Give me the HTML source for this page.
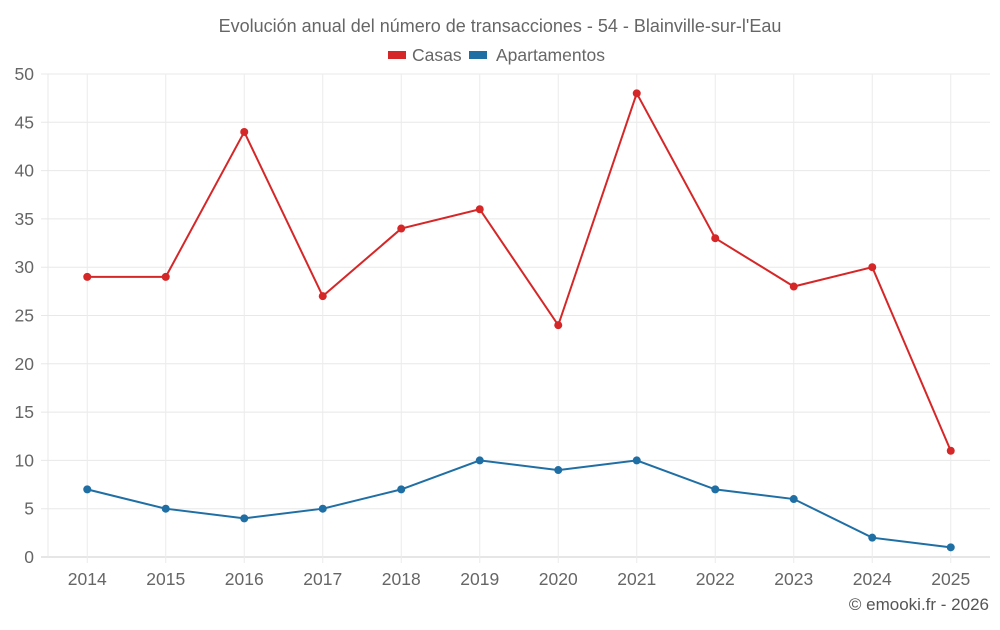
<!DOCTYPE html>
<html><head><meta charset="utf-8"><style>
body{margin:0;background:#fff;font-family:"Liberation Sans",sans-serif}
</style></head><body>
<svg id="c" width="1000" height="625" xmlns="http://www.w3.org/2000/svg">
<text x="500" y="32" text-anchor="middle" font-size="18" fill="#666">Evolución anual del número de transacciones - 54 - Blainville-sur-l'Eau</text>
<g><rect x="388" y="51" width="18" height="8" fill="#d62728"/><text x="412" y="61" font-size="17.5" fill="#666">Casas</text></g>
<g><rect x="469" y="51" width="18" height="8" fill="#1f6fa5"/><text x="496" y="61" font-size="17.5" fill="#666">Apartamentos</text></g>
<text x="989" y="610" text-anchor="end" font-size="17" fill="#555">© emooki.fr - 2026</text>
</svg>
<script>
const categories=["2014","2015","2016","2017","2018","2019","2020","2021","2022","2023","2024","2025"];
const casas=[29,29,44,27,34,36,24,48,33,28,30,11];
const apartamentos=[7,5,4,5,7,10,9,10,7,6,2,1];
const yTicks=[0,5,10,15,20,25,30,35,40,45,50];
const svg=document.getElementById('c');const NS="http://www.w3.org/2000/svg";
const L=48,R=990,T=74,B=557,yMax=50;
const step=(R-L)/categories.length;
const x=i=>L+step*(i+0.5);
const y=v=>B-(v/yMax)*(B-T);
function mk(t,a){const e=document.createElementNS(NS,t);for(const k in a)e.setAttribute(k,a[k]);svg.appendChild(e);return e;}
yTicks.forEach(v=>{
 const g=mk('line',{x1:41,x2:R,y1:y(v),y2:y(v),stroke:v===0?'#ccc':'#e8e8e8','stroke-width':1});
 
 
 const t=mk('text',{x:34,y:y(v)+6,'text-anchor':'end','font-size':17.5,fill:'#666'});t.textContent=v;
 
 
});
const v0=mk('line',{x1:L,x2:L,y1:T,y2:B,stroke:'#e8e8e8'});


categories.forEach((c,i)=>{
 const g=mk('line',{x1:x(i),x2:x(i),y1:T,y2:B+6,stroke:'#ececec'});
 
 
 const t=mk('text',{x:x(i),y:585,'text-anchor':'middle','font-size':17.5,fill:'#666'});t.textContent=c;
 
 
});
function series(data,color,name){
 const p=mk('polyline',{points:data.map((v,i)=>x(i)+','+y(v)).join(' '),fill:'none',stroke:color,'stroke-width':2});
 
 
 data.forEach((v,i)=>{const c=mk('circle',{cx:x(i),cy:y(v),r:4,fill:color});
 
 });
}
series(casas,'#d62728','casas');
series(apartamentos,'#1f6fa5','apartamentos');
</script>
</body></html>
